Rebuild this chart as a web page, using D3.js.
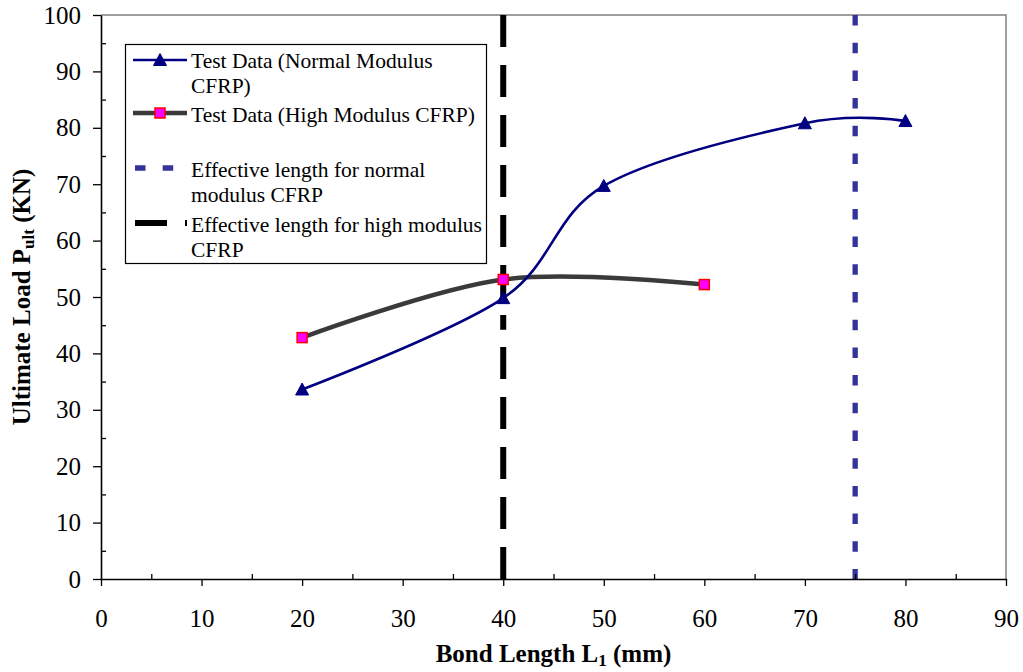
<!DOCTYPE html>
<html>
<head>
<meta charset="utf-8">
<script src="https://cdn.jsdelivr.net/npm/d3@7"></script>
<style>
  html, body { margin: 0; padding: 0; background: #fff; }
  svg { display: block; }
  svg text { font-family: "Liberation Serif", "Times New Roman", serif; fill: #000; }
</style>
</head>
<body>
<svg id="chart" width="1023" height="672"></svg>
<script>
// ---- data ----
const xTicks = [0, 10, 20, 30, 40, 50, 60, 70, 80, 90];
const xMinorTicks = [5, 15, 25, 35, 45, 55, 65, 75, 85];
const yTicks = [0, 10, 20, 30, 40, 50, 60, 70, 80, 90, 100];
const yMinorTicks = [5, 15, 25, 35, 45, 55, 65, 75, 85, 95];

const normalX = [20, 40, 50, 70, 80];
const normalY = [33.6, 49.8, 69.7, 80.8, 81.2];
const highX = [20, 40, 60];
const highY = [42.8, 53.1, 52.2];

const effNormalX = 75;          // effective length, normal modulus CFRP
const effNormalY = [100, 0];
const effHighX = 40;            // effective length, high modulus CFRP
const effHighSegments = [[0, 44.2], [100, 44.2]];

const legendLabels = [
  ["Test Data (Normal Modulus", "CFRP)"],
  ["Test Data (High Modulus CFRP)"],
  ["Effective length for normal", "modulus CFRP"],
  ["Effective length for high modulus", "CFRP"]
];
const xTitle = "Bond Length L";
const xTitleSub = "1";
const xTitleEnd = " (mm)";
const yTitle = "Ultimate Load P";
const yTitleSub = "ult";
const yTitleEnd = " (KN)";

// ---- layout ----
const SERIF = '"Liberation Serif", "Times New Roman", serif';
const svg = d3.select("#chart");
const L = 101, R = 1006, T = 15, B = 579;
const x = d3.scaleLinear().domain([0, 90]).range([L, R]);
const y = d3.scaleLinear().domain([0, 100]).range([B, T]);

const navy = "#000080", gray = "#3a3a3a", dotBlue = "#333399";

// plot border (top/right gray)
svg.append("path")
  .attr("d", `M${L},${T}H${R}V${B}`)
  .attr("fill", "none").attr("stroke", "#808080").attr("stroke-width", 1.5);

// vertical effective-length lines
svg.append("line")
  .attr("x1", x(effNormalX)).attr("x2", x(effNormalX))
  .attr("y1", y(effNormalY[0])).attr("y2", y(effNormalY[1]))
  .attr("stroke", dotBlue).attr("stroke-width", 5.3)
  .attr("stroke-dasharray", "10.5,17.2");

effHighSegments.forEach(s => {
  svg.append("line")
    .attr("x1", x(effHighX)).attr("x2", x(effHighX))
    .attr("y1", y(s[0])).attr("y2", y(s[1]))
    .attr("stroke", "#000").attr("stroke-width", 6)
    .attr("stroke-dasharray", "32,18");
});

// axes
const fmt = d3.format("d");
const xAxis = svg.append("g").attr("transform", `translate(0,${B})`)
  .call(d3.axisBottom(x).tickValues(xTicks).tickSize(7).tickSizeOuter(0).tickPadding(23.5).tickFormat(fmt));
const xMinor = svg.append("g").attr("transform", `translate(0,${B})`)
  .call(d3.axisBottom(x).tickValues(xMinorTicks).tickSize(-5).tickSizeOuter(0).tickFormat(""));
const yAxis = svg.append("g").attr("transform", `translate(${L},0)`)
  .call(d3.axisLeft(y).tickValues(yTicks).tickSize(8).tickSizeOuter(0).tickPadding(12).tickFormat(fmt));
const yMinor = svg.append("g").attr("transform", `translate(${L},0)`)
  .call(d3.axisLeft(y).tickValues(yMinorTicks).tickSize(-5).tickSizeOuter(0).tickFormat(""));

[xAxis, xMinor, yAxis, yMinor].forEach(g => {
  g.attr("font-family", SERIF).attr("font-size", 25);
  g.selectAll("path.domain").attr("stroke", "#000").attr("stroke-width", 1.6);
  g.selectAll(".tick line").attr("stroke", "#000").attr("stroke-width", 1.3);
  g.selectAll(".tick text")
    .attr("font-family", SERIF).attr("font-size", 25)
    .style("font-family", SERIF).style("font-size", "25px").attr("fill", "#000");
});
xMinor.select("path.domain").remove();
yMinor.select("path.domain").remove();

// series lines
const curve = d3.curveCardinal.tension(0);
const normalPts = normalX.map((v, i) => [v, normalY[i]]);
const highPts = highX.map((v, i) => [v, highY[i]]);
const lineGen = d3.line().x(d => x(d[0])).y(d => y(d[1])).curve(curve);

svg.append("path").attr("d", lineGen(highPts))
  .attr("fill", "none").attr("stroke", gray).attr("stroke-width", 4.5);
svg.append("path").attr("d", lineGen(normalPts))
  .attr("fill", "none").attr("stroke", navy).attr("stroke-width", 2.6);

const triPath = "M0,-6.5L6.5,5.5L-6.5,5.5Z";
svg.selectAll("path.tri").data(normalPts).enter().append("path")
  .attr("class", "tri").attr("d", triPath)
  .attr("transform", d => `translate(${x(d[0])},${y(d[1])})`)
  .attr("fill", navy).attr("stroke", navy).attr("stroke-width", 1);

svg.selectAll("rect.sq").data(highPts).enter().append("rect")
  .attr("class", "sq")
  .attr("x", d => x(d[0]) - 5).attr("y", d => y(d[1]) - 5)
  .attr("width", 10).attr("height", 10)
  .attr("fill", "#FF00FF").attr("stroke", "#FF0000").attr("stroke-width", 1.5);

// legend
const lg = svg.append("g");
lg.append("rect").attr("x", 125.5).attr("y", 44.5).attr("width", 361).attr("height", 219)
  .attr("fill", "#fff").attr("stroke", "#000").attr("stroke-width", 1.2);

const lgText = (lines, y0) => {
  lines.forEach((t, i) => {
    lg.append("text").attr("x", 191).attr("y", y0 + i * 24.6)
      .style("font-family", SERIF).style("font-size", "21.5px").text(t);
  });
};
// entry 1
lg.append("line").attr("x1", 133).attr("x2", 187).attr("y1", 60).attr("y2", 60)
  .attr("stroke", navy).attr("stroke-width", 2.6);
lg.append("path").attr("d", triPath).attr("transform", "translate(160,60)")
  .attr("fill", navy).attr("stroke", navy);
lgText(legendLabels[0], 68);
// entry 2
lg.append("line").attr("x1", 133).attr("x2", 187).attr("y1", 113).attr("y2", 113)
  .attr("stroke", gray).attr("stroke-width", 4.5);
lg.append("rect").attr("x", 155).attr("y", 108).attr("width", 10).attr("height", 10)
  .attr("fill", "#FF00FF").attr("stroke", "#FF0000").attr("stroke-width", 1.5);
lgText(legendLabels[1], 122);
// entry 3
lg.append("line").attr("x1", 135).attr("x2", 187).attr("y1", 168).attr("y2", 168)
  .attr("stroke", dotBlue).attr("stroke-width", 5.3).attr("stroke-dasharray", "10.5,17.2");
lgText(legendLabels[2], 177);
// entry 4
lg.append("line").attr("x1", 135).attr("x2", 187).attr("y1", 223).attr("y2", 223)
  .attr("stroke", "#000").attr("stroke-width", 6).attr("stroke-dasharray", "32,18");
lgText(legendLabels[3], 232);

// axis titles
const xt = svg.append("text").attr("x", (L + R) / 2).attr("y", 662)
  .attr("text-anchor", "middle")
  .style("font-family", SERIF).style("font-size", "25px").style("font-weight", "bold");
xt.append("tspan").text(xTitle);
xt.append("tspan").attr("dy", 4).style("font-size", "17px").text(xTitleSub);
xt.append("tspan").attr("dy", -4).text(xTitleEnd);

const yt = svg.append("text")
  .attr("transform", `translate(30,${(T + B) / 2}) rotate(-90)`)
  .attr("text-anchor", "middle")
  .style("font-family", SERIF).style("font-size", "25px").style("font-weight", "bold");
yt.append("tspan").text(yTitle);
yt.append("tspan").attr("dy", 4).style("font-size", "17px").text(yTitleSub);
yt.append("tspan").attr("dy", -4).text(yTitleEnd);
</script>
</body>
</html>
